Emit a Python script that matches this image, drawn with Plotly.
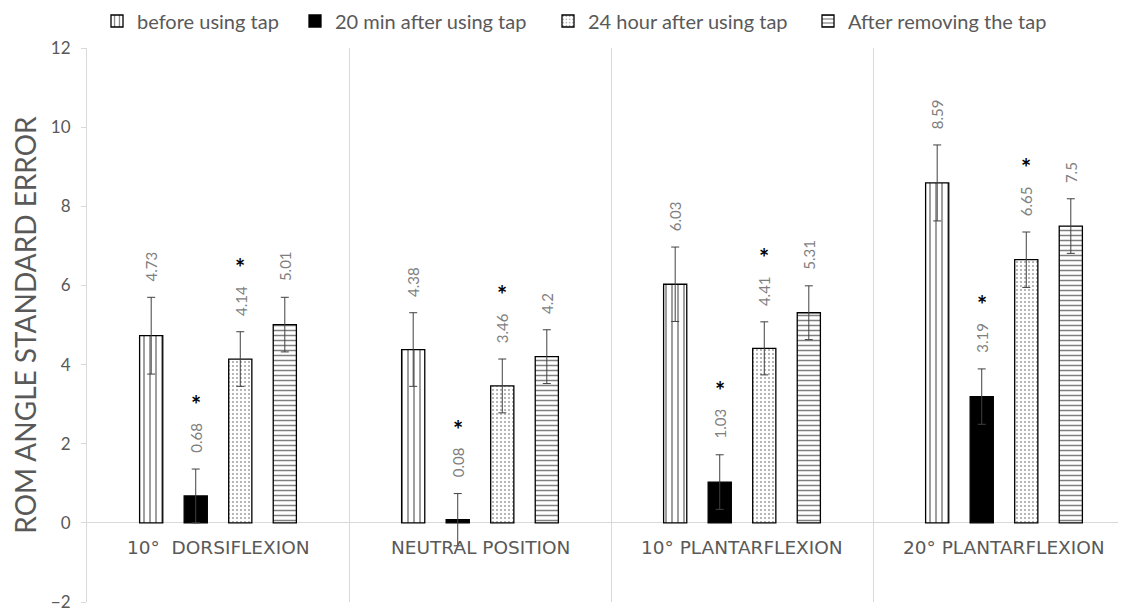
import plotly.graph_objects as go

categories = ["10°  DORSIFLEXION", "NEUTRAL POSITION", "10° PLANTARFLEXION", "20° PLANTARFLEXION"]
series_names = ["before using tap", "20 min after using tap", "24 hour after using tap", "After removing the tap"]
before = [4.73, 4.38, 6.03, 8.59]
min20 = [0.68, 0.08, 1.03, 3.19]
hour24 = [4.14, 3.46, 4.41, 6.65]
after = [5.01, 4.20, 5.31, 7.50]
err_before = [0.97, 0.93, 0.94, 0.96]
err_min20 = [0.68, 0.66, 0.69, 0.70]
err_hour24 = [0.69, 0.68, 0.67, 0.70]
err_after = [0.69, 0.68, 0.68, 0.69]
sig_before = [False, False, False, False]
sig_min20 = [True, True, True, True]
sig_hour24 = [True, True, True, True]
sig_after = [False, False, False, False]
y_ticks = [-2, 0, 2, 4, 6, 8, 10, 12]

values = [before, min20, hour24, after]
errors = [err_before, err_min20, err_hour24, err_after]
sigs = [sig_before, sig_min20, sig_hour24, sig_after]
patterns = [
    dict(shape="|", fgcolor="black", bgcolor="white", size=6, solidity=0.25),
    dict(shape="", fgcolor="black", bgcolor="black"),
    dict(shape=".", fgcolor="#404040", bgcolor="white", size=4, solidity=0.2),
    dict(shape="-", fgcolor="black", bgcolor="white", size=5, solidity=0.3),
]
colors = ["white", "black", "white", "white"]

FONT = "Lato, 'Liberation Sans', sans-serif"
GRAY = "#595959"

# page offset of the figure div (default body margin) compensated below
W, H = 1118, 603
legend_text_x = [142, 340, 593, 853]   # page px where legend texts begin
legend_keys = ["legend", "legend2", "legend3", "legend4"]

fig = go.Figure()
for i in range(4):
    fig.add_trace(go.Bar(
        name=series_names[i], x=categories, y=values[i],
        marker=dict(color=colors[i], line=dict(color="black", width=1.3), pattern=patterns[i]),
        error_y=dict(type="data", array=errors[i], visible=True, color="#404040", thickness=1, width=4),
        offsetgroup=str(i), legend=legend_keys[i],
    ))

bargap = 0.32
slot = (1 - bargap) / 4
annotations = []
for i in range(4):
    off = -(1 - bargap) / 2 + slot * (i + 0.5)
    for j, c in enumerate(categories):
        top = values[i][j] + errors[i][j]
        lbl = f"{values[i][j]:g}"
        annotations.append(dict(
            x=j + off, y=top, xref="x", yref="y", text=lbl, showarrow=False,
            textangle=-90, yanchor="bottom", xanchor="center", yshift=14,
            font=dict(family=FONT, size=15, color="#7f7f7f"),
        ))
        if sigs[i][j]:
            annotations.append(dict(
                x=j + off, y=top, xref="x", yref="y", text="<b>*</b>", showarrow=False,
                yanchor="bottom", xanchor="center", yshift=15 + 8.2 * len(lbl),
                font=dict(family=FONT, size=24, color="black"),
            ))
for j, c in enumerate(categories):
    annotations.append(dict(
        x=j, y=0, xref="x", yref="y", text=c, showarrow=False,
        yanchor="top", xanchor="center", yshift=-12,
        font=dict(family="'DejaVu Sans', sans-serif", size=18.5, color=GRAY),
    ))

legends = {}
for i, key in enumerate(legend_keys):
    legends[key] = dict(
        orientation="h", xref="container", yref="container",
        x=(legend_text_x[i] - 8 - 45) / W, xanchor="left",
        y=1 - 13 / H, yanchor="middle",
        font=dict(family=FONT, size=20, color=GRAY), itemwidth=30,
        bgcolor="rgba(0,0,0,0)",
    )

fig.update_layout(
    width=W, height=H,
    margin=dict(l=79, r=0, t=40, b=9),
    paper_bgcolor="white", plot_bgcolor="white",
    barmode="group", bargap=bargap, bargroupgap=0.48,
    font=dict(family=FONT, color=GRAY),
    showlegend=True,
    annotations=annotations,
    xaxis=dict(type="category", range=[-0.5, -0.5 + (W - 79) / 262], showticklabels=False, ticks="",
               showgrid=True, gridcolor="#d9d9d9", gridwidth=1, tickson="boundaries",
               showline=False, zeroline=False),
    yaxis=dict(range=[-2, 12], tickvals=y_ticks, showgrid=False, zeroline=True,
               zerolinecolor="#d9d9d9", zerolinewidth=1, automargin=False,
               showline=True, linecolor="#d9d9d9", ticks="outside", ticklen=5,
               ticklabelstandoff=7, ticklabeloverflow="allow",
               tickcolor="#d9d9d9", tickfont=dict(family=FONT, size=17, color=GRAY),
               title=dict(text="ROM ANGLE STANDARD ERROR", font=dict(family=FONT, size=28, color=GRAY),
                          standoff=10)),
    **legends,
)

fig.write_html("out.html")
